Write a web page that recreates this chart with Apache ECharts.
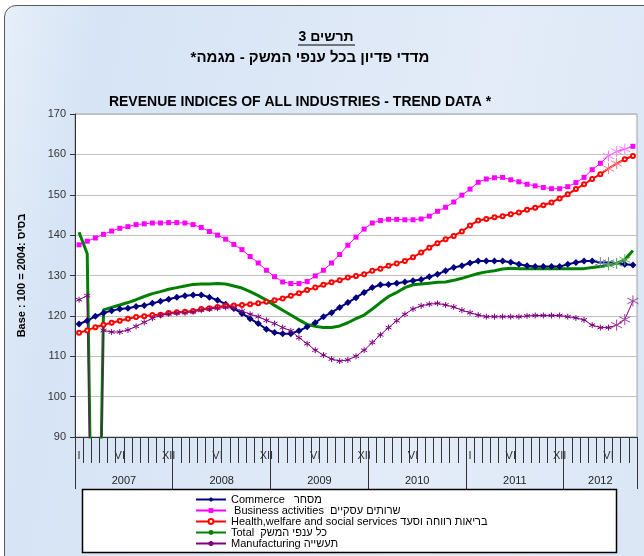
<!DOCTYPE html>
<html>
<head>
<meta charset="utf-8">
<script src="https://cdn.jsdelivr.net/npm/echarts@6/dist/echarts.min.js"></script>
<style>
  body { margin: 0; background: #fff; }
  #wrap { position: relative; width: 644px; height: 556px; overflow: hidden; background: #fff; }
  #frame {
    position: absolute; left: 4px; top: 5px; width: 700px; height: 600px;
    border: 1.5px solid #5a5a5a; border-radius: 12px;
    background: linear-gradient(100deg, #e6eff9 0%, #d6e4f5 12%, #dfe9f7 45%, #e3ecf8 62%, #d9e5f5 100%);
  }
  #chart { position: absolute; left: 0; top: 0; width: 644px; height: 556px; }
</style>
</head>
<body>
<div id="wrap">
  <div id="frame"></div>
  <div id="chart"></div>
</div>
<script>
const FONT = "'Liberation Sans', Arial, sans-serif"

// months Jan 2007 .. Sep 2012
const years = ['2007', '2008', '2009', '2010', '2011', '2012']
const monthsPerYear = [12, 12, 12, 12, 12, 9]
const months = []
years.forEach((y, k) => {
  for (let m = 1; m <= monthsPerYear[k]; m++) months.push(y + '-' + m)
})

// roman month labels under the axis
const monthTickIdx = [0, 5, 11, 17, 23, 29, 35, 41, 48, 53, 59, 65]
const monthTickTxt = ['I', 'VI', 'XII', 'VI', 'XII', 'VI', 'XII', 'VI', 'I', 'VI', 'XII', 'VI']

const commerce = [
  118.0, 118.8, 119.9, 120.7, 121.3, 121.7, 121.9, 122.3, 122.6, 123.1, 123.6, 124.1, 124.6, 125.0, 125.2, 125.2, 124.6,
  123.9, 122.9, 121.8, 120.6, 119.3, 118.1, 116.7, 115.9, 115.6, 115.6, 116.3, 117.3, 118.3, 119.8, 120.8, 122.1, 123.3,
  124.5, 125.8, 127.0, 127.7, 127.8, 128.1, 128.4, 128.7, 129.0, 129.7, 130.3, 131.2, 132.0, 132.4, 133.1, 133.6, 133.6, 133.6,
  133.6, 133.3, 132.8, 132.4, 132.2, 132.2, 132.2, 132.2, 132.8, 133.2, 133.6, 133.6, 133.2, 133.2, 133.0, 132.8, 132.6
]
const business = [
  137.6, 138.5, 139.3, 140.2, 141.0, 141.7, 142.1, 142.6, 142.8, 143.0, 143.0, 143.1, 143.1, 143.0, 142.6, 141.9, 140.9,
  140.0, 139.0, 137.7, 136.4, 134.7, 133.1, 131.3, 129.7, 128.4, 128.0, 128.0, 128.5, 129.9, 131.3, 133.1, 135.2, 137.5,
  139.5, 141.5, 143.0, 143.6, 143.9, 143.9, 143.8, 143.8, 144.0, 144.7, 145.9, 146.9, 148.2, 149.9, 151.4, 153.1, 153.9, 154.2,
  154.3, 153.7, 153.2, 152.6, 152.2, 151.8, 151.5, 151.5, 152.0, 153.0, 154.3, 156.2, 157.8, 159.6, 160.7, 161.3, 162.0
]
const health = [
  115.8, 116.4, 117.2, 117.8, 118.3, 118.8, 119.3, 119.7, 119.9, 120.2, 120.3, 120.7, 120.9, 121.0, 121.2, 121.7, 121.9,
  122.2, 122.5, 122.6, 122.7, 122.9, 123.1, 123.5, 123.9, 124.3, 125.0, 125.6, 126.4, 127.0, 127.7, 128.3, 128.8, 129.5,
  129.9, 130.3, 131.2, 131.7, 132.4, 133.0, 133.6, 134.5, 135.7, 136.9, 138.0, 139.0, 139.8, 140.9, 142.4, 143.6, 144.0, 144.4,
  144.7, 145.2, 145.6, 146.3, 146.8, 147.4, 148.1, 149.1, 150.1, 151.4, 152.6, 153.9, 155.1, 156.5, 157.7, 158.8, 159.6
]
const total = [
  140.7, 135.4, 0, 121.5, 122.1, 122.7, 123.3, 124.0, 124.8, 125.5, 126.0, 126.6, 127.0, 127.4, 127.8, 127.9, 127.9,
  128.0, 127.9, 127.4, 126.9, 126.0, 125.0, 123.9, 122.6, 121.4, 120.2, 119.0, 117.9, 117.4, 117.1, 117.1, 117.5, 118.3,
  119.3, 120.2, 121.7, 123.3, 124.8, 125.8, 127.0, 127.7, 127.9, 128.1, 128.3, 128.4, 128.8, 129.3, 129.9, 130.5, 130.9, 131.2,
  131.6, 131.8, 131.7, 131.7, 131.7, 131.7, 131.7, 131.7, 131.7, 131.7, 131.7, 132.0, 132.2, 132.6, 133.0, 133.9, 136.2
]
const manufacturing = [
  124.0, 125.0, 0, 116.4, 116.0, 116.0, 116.5, 117.4, 118.4, 119.4, 120.1, 120.5, 120.7, 120.8, 121.0, 121.4, 121.7,
  121.9, 122.1, 121.9, 121.2, 120.4, 119.8, 118.9, 118.1, 117.1, 116.3, 114.6, 113.1, 111.5, 110.3, 109.3, 108.8, 109.1,
  110.0, 111.5, 113.4, 115.3, 117.1, 118.8, 120.4, 121.7, 122.5, 122.9, 123.1, 122.7, 122.2, 121.4, 120.8, 120.2, 119.8, 119.8,
  119.8, 119.8, 119.8, 120.0, 120.1, 120.1, 120.1, 120.1, 119.8, 119.5, 119.0, 117.7, 117.1, 117.1, 117.7, 119.1, 123.7
]

// months drawn with the big star marker (preliminary data)
const commerceStars = [64, 65, 66]
const businessStars = [65, 66, 67]
const healthStars = [65, 66]
const totalStars = [65, 66, 67]
const manufacturingStars = [66, 67, 68]

const STAR = 'path://M5,0L5,10M0.7,2.5L9.3,7.5M0.7,7.5L9.3,2.5'

// year boundaries and label slots for the second axis row
const yearStartIdx = []
const yearLabelIdx = []
const yearLabelShift = []
let acc = 0
monthsPerYear.forEach(n => {
  yearStartIdx.push(acc)
  yearLabelIdx.push(acc + Math.floor(n / 2))
  yearLabelShift.push(n % 2 === 0)
  acc += n
})

const withStars = (values, stars, starColor) => values.map((v, i) => stars.includes(i)
  ? { value: v, symbol: STAR, symbolSize: 11, itemStyle: { color: starColor, borderColor: starColor, borderWidth: 1 } }
  : v)

const chart = echarts.init(document.getElementById('chart'))

const option = {
  animation: false,
  textStyle: { fontFamily: FONT },
  graphic: [
    { type: 'text', x: 326, y: 37, style: { text: '\u202Bתרשים 3\u202C', font: 'bold 14px ' + FONT, fill: '#000', align: 'center', verticalAlign: 'middle' } },
    { type: 'line', shape: { x1: 298, y1: 45, x2: 355, y2: 45 }, style: { stroke: '#000', lineWidth: 1 } },
    { type: 'text', x: 310, y: 58, style: { text: '\u202Bמדדי פדיון בכל ענפי המשק - מגמה*\u202C', font: 'bold 15px ' + FONT, fill: '#000', align: 'center', verticalAlign: 'middle' } },
    { type: 'text', x: 300, y: 102, style: { text: 'REVENUE INDICES OF ALL INDUSTRIES - TREND DATA *', font: 'bold 14px ' + FONT, fill: '#000', align: 'center', verticalAlign: 'middle' } },
    { type: 'rect', z: 1, shape: { x: 82.5, y: 489.5, width: 534, height: 63 }, style: { fill: '#fff', stroke: '#000', lineWidth: 1.5 } }
  ],
  legend: {
    orient: 'vertical',
    left: 195,
    top: 494,
    padding: 0,
    height: 60,
    itemWidth: 30,
    itemHeight: 6,
    itemGap: 0,
    selectedMode: false,
    z: 5,
    textStyle: { fontSize: 11, lineHeight: 11, color: '#000', fontFamily: FONT }
  },
  grid: {
    left: 75, right: 7, top: 114, bottom: 119,
    show: true, backgroundColor: '#fff', borderColor: '#a0a0a0', borderWidth: 1
  },
  xAxis: [
    {
      type: 'category',
      data: months,
      position: 'bottom',
      boundaryGap: true,
      axisLine: { show: true, lineStyle: { color: '#333', width: 1 } },
      axisTick: { show: true, interval: 0, length: 26, lineStyle: { color: '#333', width: 1 } },
      axisLabel: {
        show: true, interval: 0, margin: 13, fontSize: 11, color: '#333',
        formatter: (v, i) => {
          const k = monthTickIdx.indexOf(i)
          return k >= 0 ? monthTickTxt[k] : ''
        }
      },
      splitLine: { show: false }
    },
    {
      type: 'category',
      data: months,
      position: 'bottom',
      boundaryGap: true,
      axisLine: { show: false },
      axisTick: { show: true, interval: i => yearStartIdx.includes(i), length: 52, lineStyle: { color: '#333', width: 1 } },
      axisLabel: {
        show: true, interval: i => yearLabelIdx.includes(i), margin: 38, fontSize: 11, color: '#222',
        formatter: (v, i) => {
          const k = yearLabelIdx.indexOf(i)
          return yearLabelShift[k] ? '{s|' + years[k] + '}' : '{n|' + years[k] + '}'
        },
        rich: {
          s: { fontSize: 11, color: '#222', padding: [0, 8, 0, 0] },
          n: { fontSize: 11, color: '#222' }
        }
      },
      splitLine: { show: false }
    }
  ],
  yAxis: {
    type: 'value',
    min: 90, max: 170, interval: 10,
    name: 'Base : 100 = 2004: בסיס',
    nameLocation: 'middle',
    nameGap: 48,
    nameTextStyle: { fontWeight: 'bold', fontSize: 11, color: '#000', fontFamily: FONT },
    axisLine: { show: true, lineStyle: { color: '#333' } },
    axisTick: { show: true, length: 5, lineStyle: { color: '#333' } },
    axisLabel: { fontSize: 11, color: '#333', margin: 9 },
    splitLine: { lineStyle: { color: '#c0c0c0' } }
  },
  series: [
    {
      name: 'Commerce   מסחר', type: 'line',
      data: withStars(commerce, commerceStars, '#6b78b8'),
      symbol: 'diamond', symbolSize: 7,
      color: '#000080',
      lineStyle: { width: 2, color: '#000080' },
      itemStyle: { color: '#000080' }
    },
    {
      name: ' Business activities  שרותים עסקיים', type: 'line',
      data: withStars(business, businessStars, '#ff7cff'),
      symbol: 'rect', symbolSize: 5,
      color: '#ff00ff',
      lineStyle: { width: 1, color: '#ff00ff' },
      itemStyle: { color: '#ff00ff' }
    },
    {
      name: 'Health,welfare and social services בריאות רווחה וסעד', type: 'line',
      data: withStars(health, healthStars, '#ff7c7c'),
      symbol: 'emptyCircle', symbolSize: 4,
      color: '#ff0000',
      lineStyle: { width: 2, color: '#ff0000' },
      itemStyle: { color: '#ff0000', borderColor: '#ff0000', borderWidth: 1 }
    },
    {
      name: 'Total  כל ענפי המשק', type: 'line',
      data: withStars(total, totalStars, '#5fae5f'),
      symbol: 'none',
      color: '#008000',
      lineStyle: { width: 3, color: '#008000' },
      itemStyle: { color: '#008000' }
    },
    {
      name: 'Manufacturing תעשייה', type: 'line',
      data: withStars(manufacturing, manufacturingStars, '#9a3f9a'),
      symbol: STAR, symbolSize: 6,
      color: '#800080',
      lineStyle: { width: 1, color: '#800080' },
      itemStyle: { color: '#800080', borderColor: '#800080', borderWidth: 1 }
    }
  ]
}

chart.setOption(option)
</script>
</body>
</html>
